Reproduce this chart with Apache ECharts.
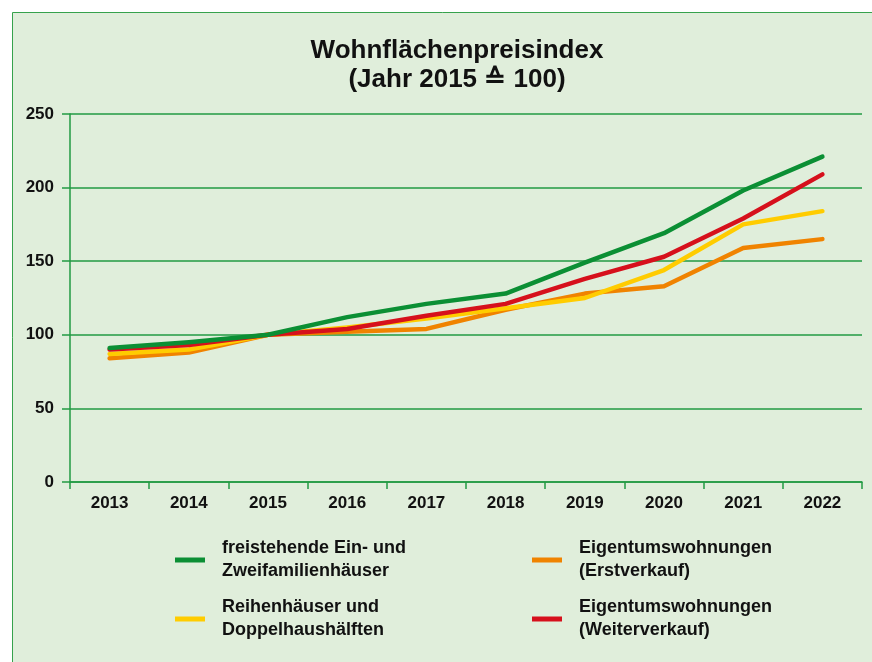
<!DOCTYPE html>
<html>
<head>
<meta charset="utf-8">
<script src="https://cdn.jsdelivr.net/npm/echarts@6/dist/echarts.min.js"></script>
<style>
  html, body { margin: 0; padding: 0; background: #ffffff; }
  #chart { width: 872px; height: 662px; }
</style>
</head>
<body>
<div id="chart"></div>
<script>
// Jahre und Indexwerte (2015 = 100)
const years = ['2013', '2014', '2015', '2016', '2017', '2018', '2019', '2020', '2021', '2022'];
const yTicks = [0, 50, 100, 150, 200, 250];

const freistehend = [91, 95, 100, 112, 121, 128, 149, 169, 198, 221];
const reihenhaeuser = [87, 90, 100, 105, 111, 118, 125, 144, 175, 184];
const etwErstverkauf = [84, 88, 100, 102, 104, 117, 128, 133, 159, 165];
const etwWeiterverkauf = [90, 93, 100, 104, 113, 121, 138, 153, 179, 209];

const names = {
  green: 'freistehende Ein- und\nZweifamilienhäuser',
  yellow: 'Reihenhäuser und\nDoppelhaushälften',
  orange: 'Eigentumswohnungen\n(Erstverkauf)',
  red: 'Eigentumswohnungen\n(Weiterverkauf)'
};

const colors = {
  green: '#0b8f34',
  yellow: '#ffcc00',
  orange: '#f08300',
  red: '#d6101c'
};

const sans = "'Liberation Sans', Arial, sans-serif";
const gridGreen = '#229a43';

function lineSeries(name, data, color, z) {
  return {
    name: name,
    type: 'line',
    data: data,
    z: z,
    symbol: 'none',
    color: color,
    lineStyle: { color: color, width: 4.5, cap: 'round', join: 'round' }
  };
}

function legendItem(name, left, top) {
  return {
    data: [name],
    left: left,
    top: top,
    padding: 0,
    icon: 'rect',
    itemWidth: 30,
    itemHeight: 5,
    selectedMode: false,
    textStyle: {
      fontFamily: sans,
      fontWeight: 'bold',
      fontSize: 18,
      lineHeight: 23,
      color: '#111111',
      padding: [0, 0, 0, 12]
    }
  };
}

const chart = echarts.init(document.getElementById('chart'), null, { renderer: 'canvas' });

chart.setOption({
  backgroundColor: '#ffffff',
  animation: false,
  graphic: [{
    type: 'rect',
    z: -100,
    silent: true,
    shape: { x: 12.5, y: 12.5, width: 900, height: 700 },
    style: { fill: '#e0eedb', stroke: '#36a24c', lineWidth: 1 }
  }],
  title: {
    text: 'Wohnflächenpreisindex\n(Jahr 2015 ≙ 100)',
    left: 457,
    top: 36,
    textAlign: 'center',
    padding: 0,
    textStyle: {
      fontFamily: sans,
      fontWeight: 'bold',
      fontSize: 26,
      lineHeight: 29,
      color: '#111111'
    }
  },
  grid: { left: 70, right: 10, top: 114, bottom: 180, containLabel: false },
  xAxis: {
    type: 'category',
    data: years,
    boundaryGap: true,
    axisLine: { show: true, lineStyle: { color: gridGreen, width: 1.5 } },
    axisTick: { show: true, length: 7, alignWithLabel: false, lineStyle: { color: gridGreen, width: 1.5 } },
    axisLabel: {
      margin: 13,
      fontFamily: sans,
      fontWeight: 'bold',
      fontSize: 17,
      color: '#111111'
    },
    splitLine: { show: false }
  },
  yAxis: {
    type: 'value',
    min: yTicks[0],
    max: yTicks[yTicks.length - 1],
    interval: 50,
    axisLine: { show: true, lineStyle: { color: gridGreen, width: 1.5 } },
    axisTick: { show: true, length: 8, lineStyle: { color: gridGreen, width: 1.5 } },
    axisLabel: {
      margin: 16,
      fontFamily: sans,
      fontWeight: 'bold',
      fontSize: 17,
      color: '#111111'
    },
    splitLine: { show: true, lineStyle: { color: gridGreen, width: 1.5 } }
  },
  legend: [
    legendItem(names.green, 175, 537),
    legendItem(names.yellow, 175, 596),
    legendItem(names.orange, 532, 537),
    legendItem(names.red, 532, 596)
  ],
  series: [
    lineSeries(names.orange, etwErstverkauf, colors.orange, 2),
    lineSeries(names.yellow, reihenhaeuser, colors.yellow, 3),
    lineSeries(names.red, etwWeiterverkauf, colors.red, 4),
    lineSeries(names.green, freistehend, colors.green, 5)
  ]
});
</script>
</body>
</html>
